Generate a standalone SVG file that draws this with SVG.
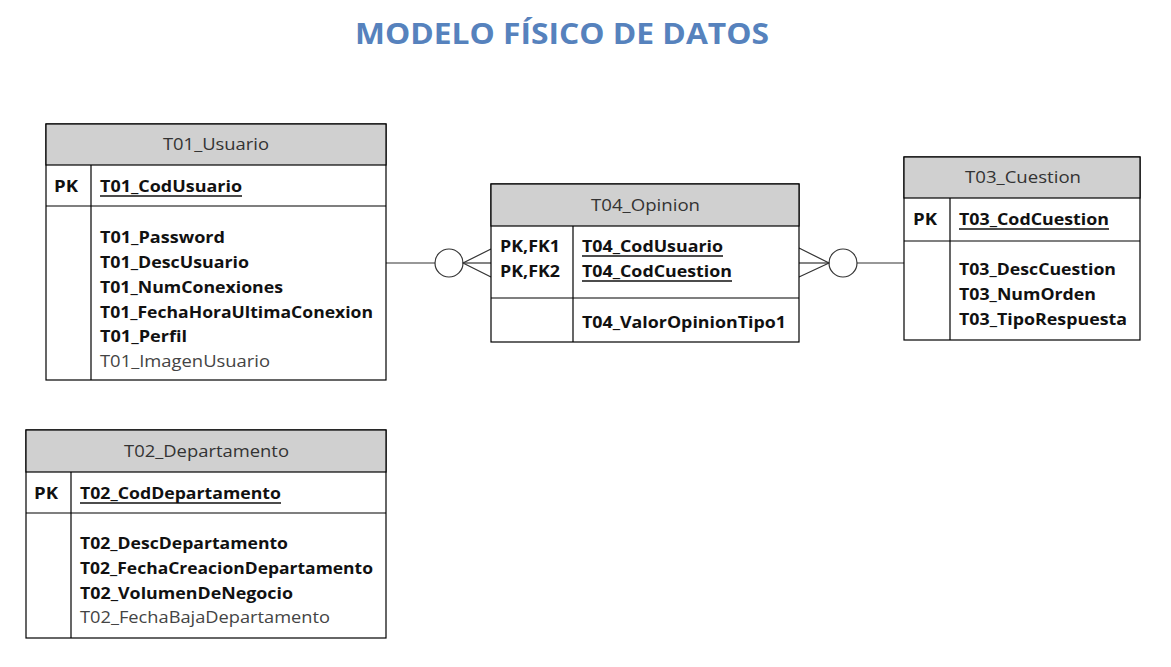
<svg xmlns="http://www.w3.org/2000/svg" width="1171" height="667" viewBox="0 0 1171 667">
<style>
.box{fill:#fff;stroke:#000;stroke-width:1.2}
.hdr{fill:#d0d0d0;stroke:#000;stroke-width:1.2}
.ln{stroke:#000;stroke-width:1.2;fill:none}
.t{font-family:"Open Sans","Noto Sans",sans-serif;font-size:16.5px;fill:#111}
.h{font-family:"Open Sans","Noto Sans",sans-serif;font-size:16.5px;fill:#333}
.b{font-weight:bold}
.g{fill:#444}
.ul{stroke:#111;stroke-width:1.3}
.title{font-family:"Open Sans","Noto Sans",sans-serif;font-size:28px;font-weight:bold;fill:#5682bd}
.conn{stroke:#333;stroke-width:1.2;fill:none}
</style>
<rect width="1171" height="667" fill="#fff"/>
<text class="title" x="355" y="44" textLength="414" lengthAdjust="spacingAndGlyphs">MODELO FÍSICO DE DATOS</text>

<g id="connectors">
<line class="conn" x1="386" y1="263" x2="435" y2="263"/>
<circle class="conn" cx="449" cy="263" r="14" fill="#fff"/>
<polyline class="conn" points="491,249 463,263 491,277"/>
<line class="conn" x1="463" y1="263" x2="491" y2="263"/>
<line class="conn" x1="857" y1="263" x2="904" y2="263"/>
<circle class="conn" cx="843" cy="263" r="14" fill="#fff"/>
<polyline class="conn" points="799,248 829,263 799,277"/>
<line class="conn" x1="799" y1="263" x2="829" y2="263"/>
</g>

<g id="T01_Usuario">
<rect class="box" x="46" y="124" width="340" height="256"/>
<rect class="hdr" x="46" y="124" width="340" height="41"/>
<line class="ln" x1="46" y1="206" x2="386" y2="206"/>
<line class="ln" x1="91" y1="165" x2="91" y2="380"/>
<text class="h" x="163" y="150" textLength="106" lengthAdjust="spacingAndGlyphs">T01_Usuario</text>
<text class="t b" x="54" y="192" textLength="24" lengthAdjust="spacingAndGlyphs">PK</text>
<text class="t b" x="100" y="192" textLength="142" lengthAdjust="spacingAndGlyphs">T01_CodUsuario</text>
<line class="ul" x1="100" y1="196" x2="242" y2="196"/>
<text class="t b" x="100" y="243" textLength="125" lengthAdjust="spacingAndGlyphs">T01_Password</text>
<text class="t b" x="100" y="268" textLength="149" lengthAdjust="spacingAndGlyphs">T01_DescUsuario</text>
<text class="t b" x="100" y="293" textLength="183" lengthAdjust="spacingAndGlyphs">T01_NumConexiones</text>
<text class="t b" x="100" y="318" textLength="273" lengthAdjust="spacingAndGlyphs">T01_FechaHoraUltimaConexion</text>
<text class="t b" x="100" y="342" textLength="87" lengthAdjust="spacingAndGlyphs">T01_Perfil</text>
<text class="t g" x="100" y="367" textLength="170" lengthAdjust="spacingAndGlyphs">T01_ImagenUsuario</text>
</g>

<g id="T04_Opinion">
<rect class="box" x="491" y="184" width="308" height="158"/>
<rect class="hdr" x="491" y="184" width="308" height="42"/>
<line class="ln" x1="491" y1="298" x2="799" y2="298"/>
<line class="ln" x1="573" y1="226" x2="573" y2="342"/>
<text class="h" x="591" y="211" textLength="109" lengthAdjust="spacingAndGlyphs">T04_Opinion</text>
<text class="t b" x="500" y="252" textLength="60" lengthAdjust="spacingAndGlyphs">PK,FK1</text>
<text class="t b" x="500" y="277" textLength="60" lengthAdjust="spacingAndGlyphs">PK,FK2</text>
<text class="t b" x="582" y="252" textLength="141" lengthAdjust="spacingAndGlyphs">T04_CodUsuario</text>
<line class="ul" x1="582" y1="256" x2="723" y2="256"/>
<text class="t b" x="582" y="277" textLength="150" lengthAdjust="spacingAndGlyphs">T04_CodCuestion</text>
<line class="ul" x1="582" y1="281" x2="732" y2="281"/>
<text class="t b" x="582" y="328" textLength="204" lengthAdjust="spacingAndGlyphs">T04_ValorOpinionTipo1</text>
</g>

<g id="T03_Cuestion">
<rect class="box" x="904" y="157" width="236" height="183"/>
<rect class="hdr" x="904" y="157" width="236" height="41"/>
<line class="ln" x1="904" y1="241" x2="1140" y2="241"/>
<line class="ln" x1="950" y1="198" x2="950" y2="340"/>
<text class="h" x="965" y="183" textLength="116" lengthAdjust="spacingAndGlyphs">T03_Cuestion</text>
<text class="t b" x="913" y="225" textLength="24" lengthAdjust="spacingAndGlyphs">PK</text>
<text class="t b" x="959" y="225" textLength="150" lengthAdjust="spacingAndGlyphs">T03_CodCuestion</text>
<line class="ul" x1="959" y1="229" x2="1109" y2="229"/>
<text class="t b" x="959" y="275" textLength="157" lengthAdjust="spacingAndGlyphs">T03_DescCuestion</text>
<text class="t b" x="959" y="300" textLength="137" lengthAdjust="spacingAndGlyphs">T03_NumOrden</text>
<text class="t b" x="959" y="325" textLength="168" lengthAdjust="spacingAndGlyphs">T03_TipoRespuesta</text>
</g>

<g id="T02_Departamento">
<rect class="box" x="26" y="430" width="360" height="208"/>
<rect class="hdr" x="26" y="430" width="360" height="42"/>
<line class="ln" x1="26" y1="513" x2="386" y2="513"/>
<line class="ln" x1="71" y1="472" x2="71" y2="638"/>
<text class="h" x="124" y="457" textLength="165" lengthAdjust="spacingAndGlyphs">T02_Departamento</text>
<text class="t b" x="34" y="499" textLength="24" lengthAdjust="spacingAndGlyphs">PK</text>
<text class="t b" x="80" y="499" textLength="201" lengthAdjust="spacingAndGlyphs">T02_CodDepartamento</text>
<line class="ul" x1="80" y1="503" x2="281" y2="503"/>
<text class="t b" x="80" y="549" textLength="208" lengthAdjust="spacingAndGlyphs">T02_DescDepartamento</text>
<text class="t b" x="80" y="574" textLength="293" lengthAdjust="spacingAndGlyphs">T02_FechaCreacionDepartamento</text>
<text class="t b" x="80" y="599" textLength="213" lengthAdjust="spacingAndGlyphs">T02_VolumenDeNegocio</text>
<text class="t g" x="80" y="623" textLength="250" lengthAdjust="spacingAndGlyphs">T02_FechaBajaDepartamento</text>
</g>
</svg>
